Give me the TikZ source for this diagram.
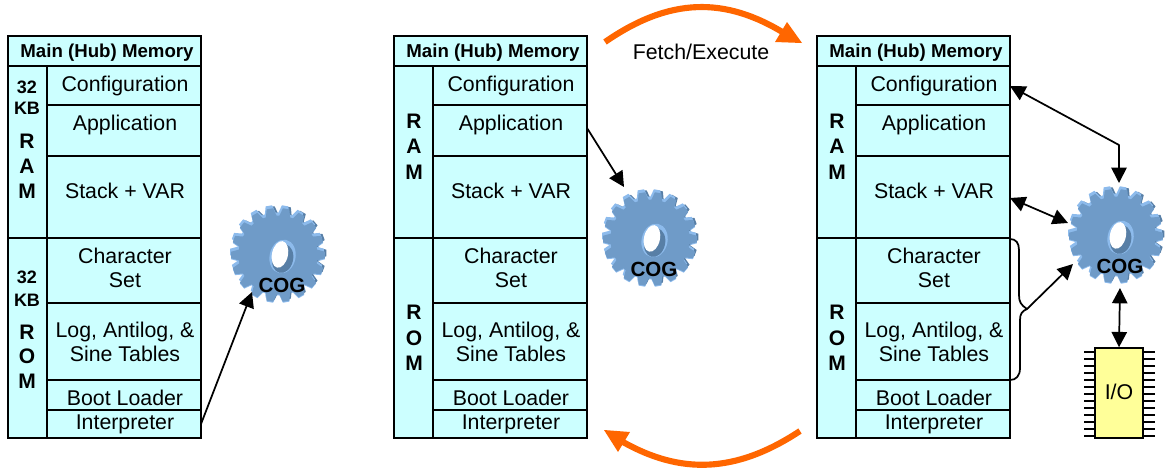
\documentclass[tikz,border=0pt]{standalone}
\usepackage{fontspec}
\setmainfont{Liberation Sans}
\usetikzlibrary{arrows.meta}
\definecolor{cellc}{HTML}{CCFFFF}
\definecolor{orangec}{HTML}{FF6600}
\definecolor{gearm}{HTML}{6F9BC8}
\definecolor{gearl}{HTML}{8DBBEC}
\definecolor{geard}{HTML}{587FA6}
\definecolor{chipc}{HTML}{FFFF99}
\newcommand{\fs}[1]{\fontsize{#1}{#1}\selectfont}
\tikzset{
  cell/.style={draw=black,line width=1.1pt,fill=cellc,anchor=north west,inner sep=0pt,outer sep=0pt},
  celltext/.style={font=\fs{16},align=center,inner sep=0pt,text height=14.5pt,text depth=3pt},
  sidetext/.style={font=\fs{15.75}\bfseries,inner sep=0pt},
  smalltext/.style={font=\fs{13.5}\bfseries,inner sep=0pt},
  headtext/.style={font=\fs{14}\bfseries,inner sep=0pt},
  cogtext/.style={font=\fs{15.4}\bfseries,inner sep=0pt},
  conn/.style={line width=1.3pt,line join=round},
  tip1/.style={-{Triangle[length=11.5pt,width=11.5pt]}},
  tip2/.style={{Triangle[length=11.5pt,width=11.5pt]}-{Triangle[length=11.5pt,width=11.5pt]}},
  bigarrow/.style={orangec,line width=4.6pt},
  pin/.style={line width=1pt,black}
}
% #1 name, #2 left x
\newcommand{\memtable}[2]{%
  \begin{scope}[shift={(#2,0)}]
    \pgfmathsetmacro{\wa}{39*0.75}\pgfmathsetmacro{\wb}{154*0.75}\pgfmathsetmacro{\wc}{193*0.75}
    \node[cell,minimum width=\wc pt,minimum height=22.5pt] (#1head) at (0,36) {};
    \node[cell,minimum width=\wa pt,minimum height=129pt] (#1ram) at (0,66) {};
    \node[cell,minimum width=\wa pt,minimum height=150pt] (#1rom) at (0,238) {};
    \node[cell,minimum width=\wb pt,minimum height=29.25pt] (#1conf) at (39,66) {};
    \node[cell,minimum width=\wb pt,minimum height=38.25pt] (#1app) at (39,105) {};
    \node[cell,minimum width=\wb pt,minimum height=61.5pt] (#1stack) at (39,156) {};
    \node[cell,minimum width=\wb pt,minimum height=48.75pt] (#1char) at (39,238) {};
    \node[cell,minimum width=\wb pt,minimum height=57.75pt] (#1log) at (39,303) {};
    \node[cell,minimum width=\wb pt,minimum height=22.5pt] (#1boot) at (39,380) {};
    \node[cell,minimum width=\wb pt,minimum height=21pt] (#1int) at (39,410) {};
    \node[headtext] (#1headt) at (99,52.5) {Main (Hub) Memory};
    \node[celltext] (#1conft) at (117,84) {Configuration};
    \node[celltext] (#1appt) at (117,123) {Application};
    \node[celltext] (#1stackt) at (117,191) {Stack + VAR};
    \node[celltext] (#1chart) at (117,256) {Character};
    \node[celltext] (#1chartb) at (117,280) {Set};
    \node[celltext] (#1logt) at (117,330) {Log, Antilog, \&};
    \node[celltext] (#1logtb) at (117,354) {Sine Tables};
    \node[celltext] (#1boott) at (117,398) {Boot Loader};
    \node[celltext] (#1intt) at (117,422) {Interpreter};
  \end{scope}}
% #1 left x: plain RAM / ROM column
\newcommand{\plainside}[2]{%
  \node[sidetext] (#1r) at (#2,121.5) {R};
  \node[sidetext] (#1a) at (#2,146.5) {A};
  \node[sidetext] (#1m) at (#2,172.5) {M};
  \node[sidetext] (#1s) at (#2,312.5) {R};
  \node[sidetext] (#1o) at (#2,338.5) {O};
  \node[sidetext] (#1n) at (#2,363.5) {M};}
\newcommand{\gearteeth}[1]{%
  \fill[#1] (0,0) circle[radius=39.5];
  \foreach \t in {0,20,...,340}{
    \fill[#1] (\t-8.5:38.5) -- (\t-4:47) -- (\t+4:47) -- (\t+8.5:38.5) -- cycle;}}
% #1 name, #2 x, #3 y
\newcommand{\gear}[3]{%
  \begin{scope}[shift={(#2,#3)}]
    \begin{scope}[shift={(0,2)}]\gearteeth{gearl}\end{scope}
    \begin{scope}[shift={(1.5,-1)}]\gearteeth{geard}\end{scope}
    \begin{scope}[shift={(-1,-2)}]\gearteeth{gearl}\end{scope}
    \begin{scope}[shift={(0,1)}]\gearteeth{gearm}\end{scope}
    \fill[gearl,rotate=-12] (5,1.5) ellipse[x radius=13,y radius=17];
    \fill[geard,rotate=-12] (5.5,3.5) ellipse[x radius=10.5,y radius=14.5];
    \fill[white,rotate=-12] (2,0) ellipse[x radius=8,y radius=13.5];
    \node[cogtext] (#1) at (4,31) {COG};
  \end{scope}}
\begin{document}
\begin{tikzpicture}[x=0.75pt,y=-0.75pt]
\useasboundingbox (0,0) rectangle (1172,468);
\memtable{a}{8}
\memtable{b}{394}
\memtable{c}{817}
% first table side labels
\node[smalltext] (a32) at (27,87) {32};
\node[smalltext] (akb) at (27,108) {KB};
\node[sidetext] (ar) at (27,141.5) {R};
\node[sidetext] (aa) at (27,166.5) {A};
\node[sidetext] (am) at (27,191.5) {M};
\node[smalltext] (a32b) at (27,277) {32};
\node[smalltext] (akbb) at (27,300) {KB};
\node[sidetext] (as) at (27,332.5) {R};
\node[sidetext] (ao) at (27,356.5) {O};
\node[sidetext] (an) at (27,381.5) {M};
\plainside{b}{414}
\plainside{c}{837}
% gears
\gear{coga}{278}{254}
\gear{cogb}{650}{238}
\gear{cogc}{1116}{235}
% Fetch / execute
\node[font=\fs{16},inner sep=0pt] (fetch) at (701,52) {Fetch/Execute};
\coordinate (fs) at (605,42);
\coordinate (ft) at (802,43);
\coordinate (fb) at (784,33);
\coordinate (es) at (800,431);
\coordinate (et) at (604,430);
\coordinate (eb) at (623,442);
\draw[bigarrow] (fs) .. controls (670,-3) and (725,-3) .. (fb);
\fill[orangec] (ft) -- (787,22) -- (775,42) -- cycle;
\draw[bigarrow] (es) .. controls (735,474) and (680,474) .. (eb);
\fill[orangec] (et) -- (630,432) -- (618,452) -- cycle;
% connectors
\coordinate (ga) at (252,292);
\draw[conn,tip1] (aint.east) -- (ga);
\coordinate (gb) at (624,187);
\draw[conn,tip1] (587,128) -- (gb);
\coordinate (cc) at (1010,86);
\coordinate (cm) at (1119,145);
\coordinate (cg) at (1119,183);
\draw[conn,tip2] (cc) -- (cm) -- (cg);
\coordinate (sc) at (1010,198);
\coordinate (sg) at (1068,223);
\draw[conn,tip2] (sc) -- (sg);
\coordinate (br) at (1027,309);
\coordinate (bg) at (1073,264);
\draw[conn,tip1] (br) -- (bg);
\draw[conn] (1010,239) .. controls (1016,239) and (1019,243) .. (1019,250)
  -- (1019,295) .. controls (1019,302) and (1021,305) .. (br)
  .. controls (1022,311) and (1020,314) .. (1020,320)
  -- (1020,368) .. controls (1020,376) and (1016,380) .. (1010,380);
% chip
\foreach \yy in {353,360,...,437}{
  \draw[pin] (1084,\yy-1) -- (1095,\yy-1);
  \draw[pin] (1143,\yy-1) -- (1155,\yy-1);
}
\node[draw=black,line width=1.1pt,fill=chipc,minimum width=36pt,minimum height=67.5pt,inner sep=0pt,font=\fs{16}] (io) at (1119,393) {\raisebox{2pt}{I/O}};
\coordinate (cb) at (1120,288);
\draw[conn,tip2] (cb) -- (io.north);
\end{tikzpicture}
\end{document}
